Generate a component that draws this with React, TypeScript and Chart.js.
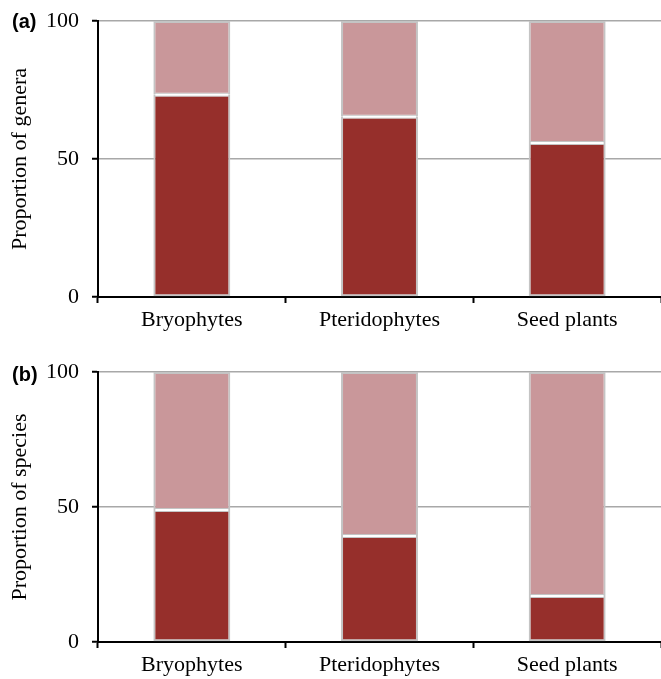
import React, { useEffect, useRef } from "react";
import { Chart, registerables } from "chart.js";

Chart.register(...registerables);

const categories = ["Bryophytes", "Pteridophytes", "Seed plants"];
const yTicks = [0, 50, 100];
// panel (a): proportion of genera
const generaDark = [73.3, 65.3, 55.8];
const generaLight = [26.7, 34.7, 44.2];
// panel (b): proportion of species
const speciesDark = [48.9, 39.3, 17.0];
const speciesLight = [51.1, 60.7, 83.0];

const DARK = "#962f2b";
const LIGHT = "#c9979a";
const EDGE = "#c4c4c4";
const SERIF = "'Liberation Serif', 'Times New Roman', serif";

const separatorPlugin = {
  id: "separator",
  afterDatasetsDraw(chart: any) {
    const meta = chart.getDatasetMeta(0);
    const ctx = chart.ctx;
    ctx.save();
    ctx.strokeStyle = "#ffffff";
    ctx.lineWidth = 2;
    meta.data.forEach((bar: any) => {
      const half = bar.width / 2 - 2;
      ctx.beginPath();
      ctx.moveTo(bar.x - half, bar.y);
      ctx.lineTo(bar.x + half, bar.y);
      ctx.stroke();
    });
    ctx.restore();
  },
};

function Panel(props: {
  dark: number[];
  light: number[];
  title: string;
  height: number;
  padTop: number;
  xHeight: number;
}) {
  const ref = useRef<HTMLCanvasElement>(null);
  useEffect(() => {
    if (!ref.current) return;
    const chart = new Chart(ref.current, {
      type: "bar",
      data: {
        labels: categories,
        datasets: [
          {
            data: props.dark,
            backgroundColor: DARK,
            borderColor: EDGE,
            borderWidth: 2,
            borderSkipped: false,
            categoryPercentage: 1,
            barPercentage: 0.41,
          },
          {
            data: props.light,
            backgroundColor: LIGHT,
            borderColor: EDGE,
            borderWidth: 2,
            borderSkipped: false,
            categoryPercentage: 1,
            barPercentage: 0.41,
          },
        ],
      },
      options: {
        responsive: false,
        animation: false,
        devicePixelRatio: 1,
        layout: { padding: { top: props.padTop, left: 0, right: 0, bottom: 0 } },
        plugins: { legend: { display: false }, tooltip: { enabled: false } },
        scales: {
          x: {
            stacked: true,
            border: { color: "#000", width: 2 },
            grid: {
              offset: true,
              drawOnChartArea: false,
              drawTicks: true,
              tickLength: 6,
              tickColor: "#000",
              tickWidth: 2,
            },
            ticks: {
              color: "#000",
              font: { family: SERIF, size: 22 },
              padding: 4,
              maxRotation: 0,
              autoSkip: false,
            },
            afterFit(scale: any) {
              scale.height = props.xHeight;
            },
          },
          y: {
            stacked: true,
            min: 0,
            max: 100,
            afterBuildTicks(scale: any) {
              scale.ticks = yTicks.map((v) => ({ value: v }));
            },
            border: { color: "#000", width: 2 },
            grid: {
              color: "#a8a8a8",
              lineWidth: 1.5,
              tickLength: 6,
              tickColor: "#000",
              tickWidth: 2,
            },
            ticks: {
              color: "#000",
              font: { family: SERIF, size: 22 },
              padding: 13,
            },
            title: {
              display: true,
              text: props.title,
              color: "#000",
              font: { family: SERIF, size: 22 },
              padding: { top: 7, bottom: 0 },
            },
            afterFit(scale: any) {
              scale.width = 98;
              scale.paddingTop = 10;
              scale.paddingBottom = 10;
            },
          },
        },
      },
      plugins: [separatorPlugin],
    } as any);
    return () => chart.destroy();
  }, []);
  return (
    <canvas
      ref={ref}
      width={661}
      height={props.height}
      style={{ display: "block", width: 661, height: props.height }}
    />
  );
}

const tagStyle: React.CSSProperties = {
  position: "absolute",
  left: 12,
  fontFamily: "'Liberation Sans', Arial, sans-serif",
  fontWeight: "bold",
  fontSize: 20,
  lineHeight: "22px",
  color: "#000",
};

export default function App() {
  return (
    <div
      style={{
        position: "absolute",
        left: 0,
        top: 0,
        width: 661,
        height: 679,
        background: "#fff",
      }}
    >
      <Panel dark={generaDark} light={generaLight} title="Proportion of genera" height={340} padTop={21} xHeight={43} />
      <Panel dark={speciesDark} light={speciesLight} title="Proportion of species" height={339} padTop={32} xHeight={37} />
      <div style={{ ...tagStyle, top: 10 }}>(a)</div>
      <div style={{ ...tagStyle, top: 363 }}>(b)</div>
    </div>
  );
}
